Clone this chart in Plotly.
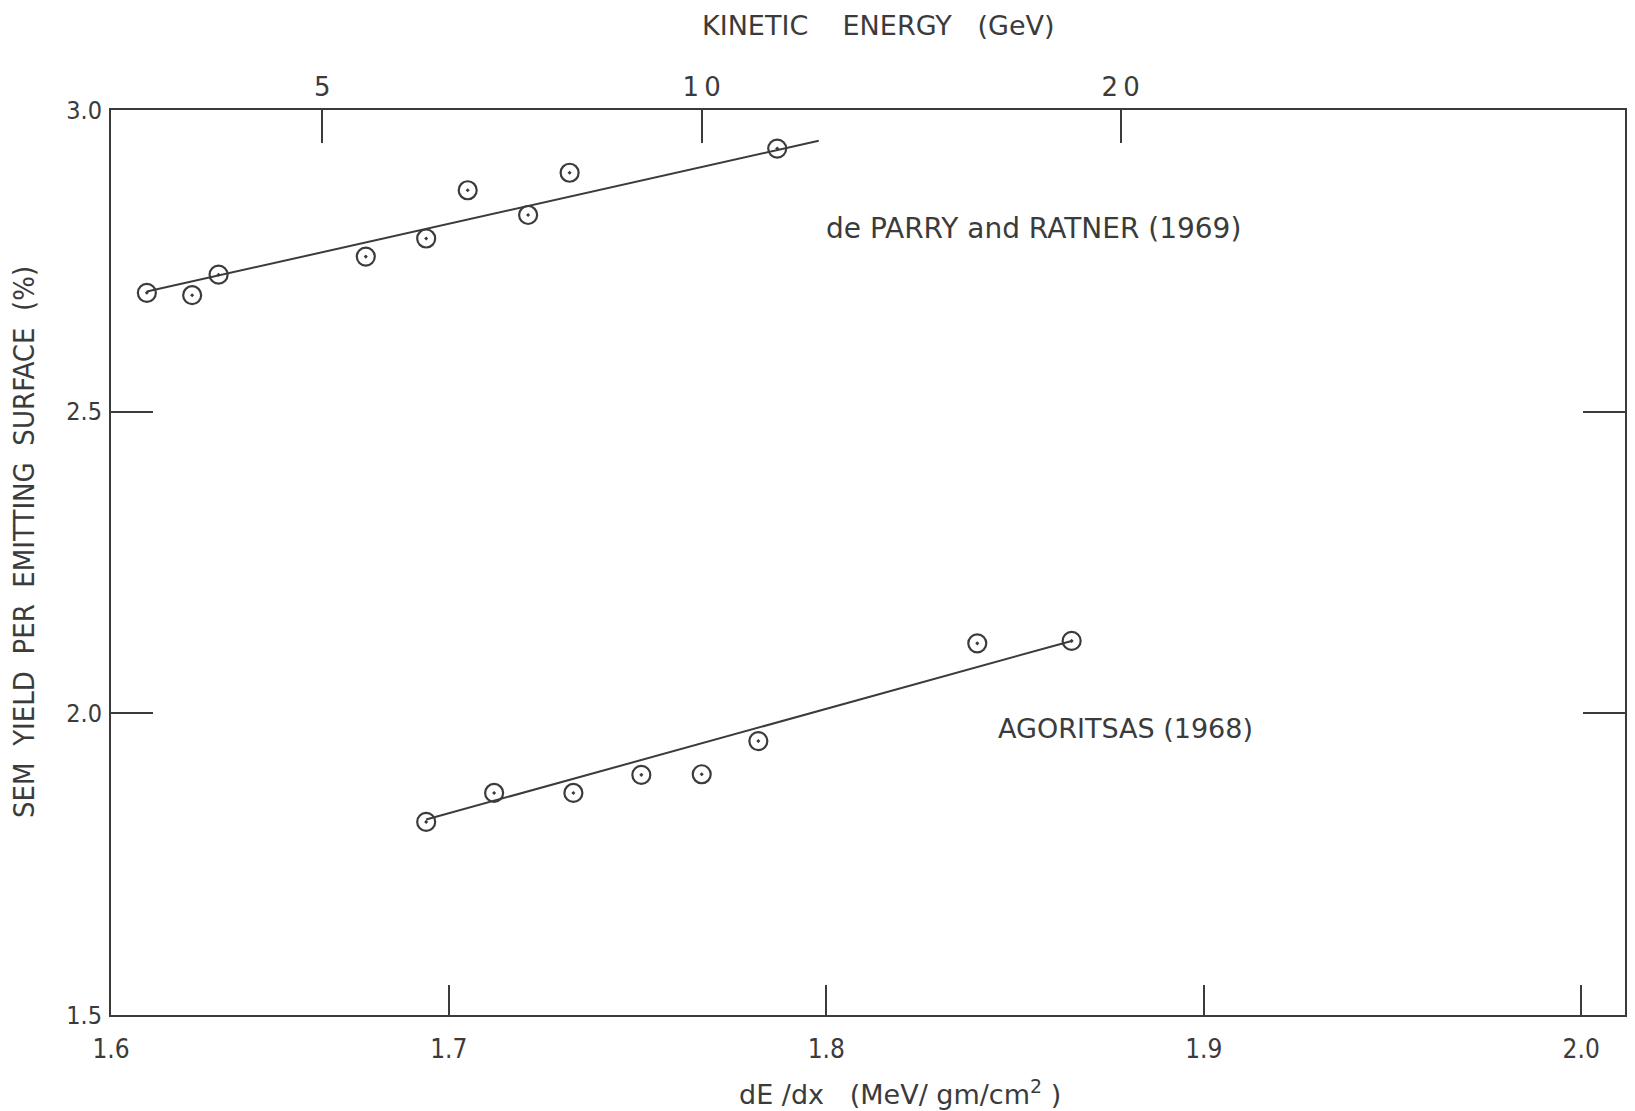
import plotly.graph_objects as go

# ---------------- data ----------------
parry_dedx = [1.620, 1.632, 1.639, 1.678, 1.694, 1.705, 1.721, 1.732, 1.787]
parry_yield = [2.697, 2.693, 2.727, 2.757, 2.787, 2.867, 2.826, 2.896, 2.936]
parry_fit_dedx = [1.620, 1.798]
parry_fit_yield = [2.699, 2.949]

agor_dedx = [1.694, 1.712, 1.733, 1.751, 1.767, 1.782, 1.840, 1.865]
agor_yield = [1.820, 1.868, 1.868, 1.898, 1.899, 1.954, 2.116, 2.120]
agor_fit_dedx = [1.694, 1.865]
agor_fit_yield = [1.824, 2.120]

x_tick_vals = [1.6105, 1.7, 1.8, 1.9, 2.0]
x_tick_text = ["1.6", "1.7", "1.8", "1.9", "2.0"]
y_tick_vals = [1.5, 2.0, 2.5, 3.0]
y_tick_text = ["1.5", "2.0", "2.5", "3.0"]
energy_tick_dedx = [1.6665, 1.7670, 1.8780]
energy_tick_text = ["5", "1\u20090", "2\u20090"]
x_range = [1.6105, 2.0116]
y_range = [1.5, 3.0]

INK = "#3b3b3b"
FONT = "DejaVu Sans, sans-serif"
COND = "DejaVu Sans Condensed, DejaVu Sans, sans-serif"

fig = go.Figure()

marker_style = dict(symbol="circle-open-dot", size=18, color=INK,
                    line=dict(width=2.2, color=INK))
line_style = dict(color=INK, width=2)

fig.add_trace(go.Scatter(x=parry_fit_dedx, y=parry_fit_yield, mode="lines",
                         line=line_style, showlegend=False, hoverinfo="skip"))
fig.add_trace(go.Scatter(x=parry_dedx, y=parry_yield, mode="markers",
                         marker=marker_style, name="de PARRY and RATNER (1969)",
                         showlegend=False))
fig.add_trace(go.Scatter(x=agor_fit_dedx, y=agor_fit_yield, mode="lines",
                         line=line_style, showlegend=False, hoverinfo="skip"))
fig.add_trace(go.Scatter(x=agor_dedx, y=agor_yield, mode="markers",
                         marker=marker_style, name="AGORITSAS (1968)",
                         showlegend=False))
# invisible trace to attach the top (kinetic energy) axis
fig.add_trace(go.Scatter(x=energy_tick_dedx, y=[y_range[1]] * len(energy_tick_dedx),
                         mode="none", xaxis="x2", showlegend=False, hoverinfo="skip"))

# series labels
fig.add_annotation(text="de PARRY and RATNER (1969)", x=1.8550, y=2.8030,
                   xref="x", yref="y", showarrow=False,
                   font=dict(size=28, color=INK, family=FONT))
fig.add_annotation(text="AGORITSAS (1968)", x=1.8792, y=1.9745,
                   xref="x", yref="y", showarrow=False,
                   font=dict(size=27, color=INK, family=FONT))

# axis titles (placed in pixels relative to the plot frame)
fig.add_annotation(text="KINETIC    ENERGY   (GeV)", xref="x", yref="paper",
                   x=1.8137, y=1, yanchor="middle", yshift=85, showarrow=False,
                   font=dict(size=27, color=INK, family=FONT))
fig.add_annotation(text="dE /dx   (MeV/ gm/cm<sup>2</sup> )", xref="x", yref="paper",
                   x=1.8195, y=0, yanchor="middle", yshift=-77, showarrow=False,
                   font=dict(size=27, color=INK, family=FONT))
fig.add_annotation(text="SEM  YIELD  PER  EMITTING  SURFACE  (%)", xref="paper", yref="y",
                   x=0, y=2.284, xanchor="center", xshift=-87, textangle=-90,
                   showarrow=False, font=dict(size=29, color=INK, family=COND))

# The page body has an 8 px margin, so the figure is sized and margined to
# put the plot frame at the reference's pixel position.
fig.update_layout(
    width=1620, height=1103, autosize=False,
    margin=dict(l=103, r=1, t=102, b=96),
    paper_bgcolor="white", plot_bgcolor="white",
    font=dict(family=FONT, size=24, color=INK),
    xaxis=dict(
        range=x_range, tickmode="array", tickvals=x_tick_vals, ticktext=x_tick_text,
        ticks="inside", ticklen=30, tickwidth=2, tickcolor=INK,
        tickfont=dict(family=COND, size=26, color=INK),
        showline=True, linewidth=2, linecolor=INK, mirror=True,
        showgrid=False, zeroline=False, ticklabelstandoff=10,
    ),
    xaxis2=dict(
        overlaying="x", side="top", anchor="y", range=x_range,
        tickmode="array", tickvals=energy_tick_dedx, ticktext=energy_tick_text,
        ticks="inside", ticklen=33, tickwidth=2, tickcolor=INK,
        tickfont=dict(family=FONT, size=26, color=INK),
        showline=False, showgrid=False, zeroline=False, ticklabelstandoff=8,
    ),
    yaxis=dict(
        range=y_range, tickmode="array", tickvals=y_tick_vals, ticktext=y_tick_text,
        ticks="inside", ticklen=42, tickwidth=2, tickcolor=INK,
        tickfont=dict(family=COND, size=25, color=INK),
        showline=True, linewidth=2, linecolor=INK, mirror="ticks",
        showgrid=False, zeroline=False, ticklabelstandoff=2,
    ),
)

fig.write_html("out.html")
